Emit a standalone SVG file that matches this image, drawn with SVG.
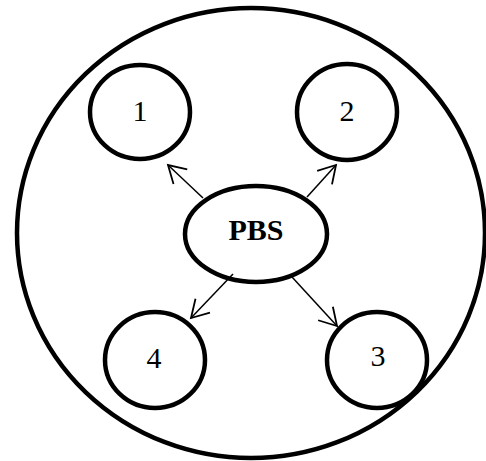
<svg xmlns="http://www.w3.org/2000/svg" width="486" height="461" viewBox="0 0 486 461">
<style>
.n{fill:#fff;stroke:#000;stroke-width:4.5}
.o{fill:none;stroke:#000;stroke-width:4.5}
.t{font-family:"Liberation Serif","Times New Roman",serif;font-size:30px;fill:#000;text-anchor:middle}
.b{font-weight:bold}
.c{stroke:#000;stroke-width:1.5;fill:none}
</style>
<defs>
<marker id="ah" markerUnits="userSpaceOnUse" markerWidth="40" markerHeight="40" refX="20" refY="20" orient="auto" viewBox="0 0 40 40">
<path d="M3,10 L20,20 L3,30" fill="none" stroke="#000" stroke-width="1.8"/>
</marker>
</defs>
<g id="outer"><ellipse class="o" cx="251" cy="233" rx="234" ry="225"/></g>
<g id="connectors">
<line class="c" x1="203" y1="198" x2="168" y2="165" marker-end="url(#ah)"/>
<line class="c" x1="307" y1="197" x2="336" y2="165" marker-end="url(#ah)"/>
<line class="c" x1="233" y1="274" x2="191" y2="318" marker-end="url(#ah)"/>
<line class="c" x1="292" y1="277" x2="337" y2="326" marker-end="url(#ah)"/>
</g>
<g id="n1"><ellipse class="n" cx="140" cy="112" rx="50" ry="47"/><text class="t" x="140" y="121">1</text></g>
<g id="n2"><ellipse class="n" cx="347" cy="112" rx="50" ry="48"/><text class="t" x="347" y="121">2</text></g>
<g id="pbs"><ellipse class="o" cx="256" cy="234" rx="71" ry="48"/><text class="t b" x="256" y="240">PBS</text></g>
<g id="n4"><ellipse class="n" cx="155" cy="360" rx="50" ry="48"/><text class="t" x="154" y="368">4</text></g>
<g id="n3"><ellipse class="n" cx="377" cy="360" rx="50" ry="48"/><text class="t" x="378" y="366">3</text></g>
</svg>
